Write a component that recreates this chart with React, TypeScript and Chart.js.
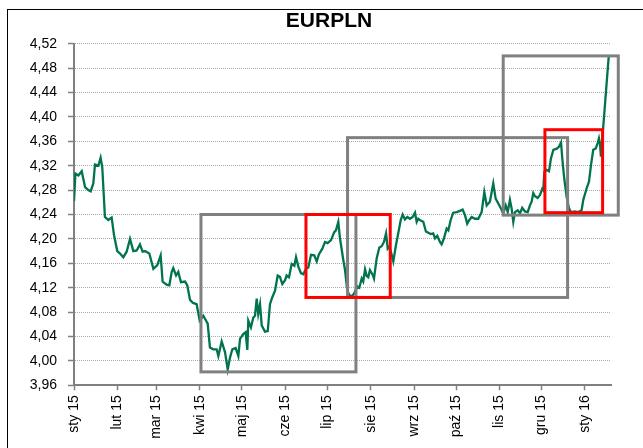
import React, { useEffect, useRef } from "react";
import { Chart, registerables } from "chart.js";

Chart.register(...registerables);

// x axis: days since 1 Jan 2015
const monthDays = [0, 31, 59, 90, 120, 151, 181, 212, 243, 273, 304, 334, 365];
const monthLabels = [
  "sty 15", "lut 15", "mar 15", "kwi 15", "maj 15", "cze 15", "lip 15",
  "sie 15", "wrz 15", "paź 15", "lis 15", "gru 15", "sty 16",
];
const xMax = 383.6;

const yTickValues = [3.96, 4.0, 4.04, 4.08, 4.12, 4.16, 4.2, 4.24, 4.28, 4.32, 4.36, 4.4, 4.44, 4.48, 4.52];

const days = [
  0, 1, 3.1, 5.5, 7.9, 10.2, 11.9, 13.8, 15, 17.4, 19, 20.2, 22.1, 24.5, 26.9, 28.6, 30.9, 32.9, 35.2, 37.6,
  40, 42.4, 44.8, 47.1, 49, 50.7, 53.8, 56.7, 59.5, 61.9, 63.3, 66.2, 68.1, 69.8, 70.9, 72.9, 74.5, 76.4, 79.3, 80.9,
  82.9, 85, 87.6, 89.8, 92.4, 95.5, 97.1, 99.5, 101.9, 103.1, 105.5, 107.9, 109.8, 111.4, 113.1, 115.5, 117.4, 118.6, 120.9, 122.6,
  123.8, 124.5, 126.4, 128.1, 129.3, 130.5, 131.6, 132.9, 134.1, 136.4, 138.4, 140, 141.6, 143.6, 145.5, 147.1, 148.8, 150.7, 151.9, 153.6,
  155.5, 157.4, 158.6, 160.2, 162.1, 163.8, 165.7, 167.4, 169.3, 171.6, 173.4, 175, 177.4, 179.3, 181.2, 183.6, 185.9, 187.1, 188.8, 190,
  192.4, 193.6, 195.2, 196.6, 198.4, 200, 202.4, 203.8, 205.5, 206.6, 207.9, 209.1, 210.2, 211.4, 213.4, 214.3, 216.2, 218.1, 219.8, 221.4,
  222.9, 224.1, 225.2, 226.4, 228.1, 230, 231.6, 233.4, 234.8, 236.4, 238.1, 240, 241.9, 243.6, 244.8, 245.9, 247.6, 249.5, 251.4, 253.1,
  254.8, 256.6, 257.9, 259.5, 261.4, 262.6, 264.3, 266.2, 267.4, 269.1, 270.9, 273.4, 275.7, 277.6, 279.3, 280.9, 282.4, 284.1, 286.4, 288.8,
  291.2, 293.1, 294.8, 297.1, 299.5, 301.2, 303.1, 305, 306.6, 308.4, 309.8, 311.4, 312.6, 313.8, 315, 316.9, 318.6, 320.2, 322.1, 324.1,
  325.7, 326.9, 328.1, 329.3, 331.2, 332.9, 334.5, 335.2, 336, 337.6, 339.3, 340.7, 342.4, 344.8, 346.4, 347.9, 348.8, 350.2, 351.9, 353.6,
  355, 357.9, 360.2, 362.6, 363.8, 366.2, 367.9, 369.3, 370.9, 372.6, 374.1, 375, 375.7, 376.4, 382,
];

const rates = [
  4.262, 4.307, 4.304, 4.311, 4.285, 4.28, 4.278, 4.291, 4.322, 4.32, 4.333, 4.317, 4.236, 4.231, 4.235, 4.206, 4.18, 4.176, 4.17, 4.179,
  4.2, 4.18, 4.181, 4.191, 4.179, 4.18, 4.176, 4.151, 4.157, 4.173, 4.13, 4.125, 4.124, 4.146, 4.152, 4.14, 4.146, 4.129, 4.13, 4.124,
  4.1, 4.095, 4.093, 4.066, 4.074, 4.061, 4.022, 4.019, 4.019, 4.008, 4.032, 4.014, 3.986, 4.005, 4.019, 4.021, 4.008, 4.036, 4.044, 4.047,
  4.018, 4.066, 4.055, 4.071, 4.074, 4.102, 4.077, 4.093, 4.058, 4.048, 4.049, 4.093, 4.104, 4.115, 4.14, 4.138, 4.126, 4.132, 4.14, 4.137,
  4.159, 4.156, 4.17, 4.155, 4.144, 4.142, 4.151, 4.153, 4.174, 4.173, 4.163, 4.175, 4.184, 4.195, 4.193, 4.198, 4.211, 4.214, 4.228, 4.201,
  4.165, 4.149, 4.116, 4.108, 4.106, 4.11, 4.122, 4.12, 4.135, 4.13, 4.15, 4.139, 4.137, 4.149, 4.141, 4.135, 4.168, 4.186, 4.188, 4.195,
  4.209, 4.184, 4.187, 4.179, 4.163, 4.19, 4.209, 4.231, 4.24, 4.232, 4.236, 4.233, 4.236, 4.243, 4.228, 4.233, 4.23, 4.228, 4.212, 4.21,
  4.208, 4.209, 4.201, 4.205, 4.195, 4.191, 4.201, 4.217, 4.214, 4.231, 4.243, 4.244, 4.246, 4.248, 4.239, 4.225, 4.231, 4.236, 4.233, 4.233,
  4.244, 4.277, 4.255, 4.261, 4.291, 4.266, 4.258, 4.25, 4.242, 4.255, 4.244, 4.264, 4.25, 4.228, 4.244, 4.247, 4.242, 4.251, 4.245, 4.244,
  4.255, 4.261, 4.275, 4.27, 4.267, 4.272, 4.282, 4.28, 4.31, 4.313, 4.311, 4.332, 4.346, 4.348, 4.351, 4.358, 4.332, 4.299, 4.269, 4.25,
  4.244, 4.245, 4.244, 4.247, 4.264, 4.283, 4.294, 4.321, 4.346, 4.348, 4.357, 4.365, 4.357, 4.335, 4.5,
];

// highlighted ranges (start day, end day, low rate, high rate)
const grayStart = [90.7, 195.4, 306.6];
const grayEnd = [201.4, 352.6, 388.8];
const grayLow = [3.982, 4.104, 4.239];
const grayHigh = [4.24, 4.366, 4.5];

const redStart = [165.7, 336.4];
const redEnd = [225.9, 377.6];
const redLow = [4.104, 4.243];
const redHigh = [4.24, 4.379];

const FONT = "'Liberation Sans', Arial, Helvetica, sans-serif";

const boxPlugin = {
  id: "rangeBoxes",
  afterLayout(chart: any) {
    // let the y labels extend to the left of the (narrow) axis box without being clipped
    const ys = chart.scales.y;
    if (ys) ys.left = 0;
  },
  afterDatasetsDraw(chart: any) {
    const { ctx, scales } = chart;
    const xs = scales.x;
    const ys = scales.y;
    const drawSet = (s: number[], e: number[], lo: number[], hi: number[], color: string) => {
      ctx.save();
      ctx.strokeStyle = color;
      ctx.lineWidth = 3;
      ctx.lineJoin = "miter";
      for (let i = 0; i < s.length; i++) {
        const x0 = xs.getPixelForValue(s[i]);
        const x1 = xs.getPixelForValue(e[i]);
        const y0 = ys.getPixelForValue(hi[i]);
        const y1 = ys.getPixelForValue(lo[i]);
        ctx.strokeRect(x0, y0, x1 - x0, y1 - y0);
      }
      ctx.restore();
    };
    drawSet(grayStart, grayEnd, grayLow, grayHigh, "#808080");
    drawSet(redStart, redEnd, redLow, redHigh, "#ff0000");
  },
  afterDraw(chart: any) {
    const { ctx, width, height } = chart;
    ctx.save();
    ctx.strokeStyle = "#000000";
    ctx.lineWidth = 1;
    ctx.beginPath();
    ctx.moveTo(7, 9.5);
    ctx.lineTo(width, 9.5);
    ctx.moveTo(7.5, 9);
    ctx.lineTo(7.5, height);
    ctx.stroke();
    ctx.restore();
  },
};

export default function App() {
  const canvasRef = useRef<HTMLCanvasElement | null>(null);

  useEffect(() => {
    if (!canvasRef.current) return;
    const chart = new Chart(canvasRef.current, {
      type: "line",
      data: {
        datasets: [
          {
            label: "EURPLN",
            data: days.map((d, i) => ({ x: d, y: rates[i] })),
            borderColor: "#00744a",
            borderWidth: 2.3,
            pointRadius: 0,
            pointHoverRadius: 0,
            tension: 0,
            fill: false,
          },
        ],
      },
      options: {
        animation: false,
        responsive: false,
        events: [],
        layout: { padding: { left: 47, right: 32, top: 0, bottom: 0 } },
        plugins: {
          legend: { display: false },
          tooltip: { enabled: false },
          title: {
            display: true,
            text: "EURPLN",
            color: "#000000",
            font: { family: FONT, size: 21, weight: "bold" },
            padding: { top: 9.1, bottom: 9.4 },
          },
        },
        scales: {
          x: {
            type: "linear",
            min: 0,
            max: xMax,
            afterBuildTicks: (s: any) => {
              s.ticks = monthDays.map((v) => ({ value: v }));
            },
            afterFit: (s: any) => {
              s.height = 62.7;
            },
            ticks: {
              autoSkip: false,
              maxRotation: 90,
              minRotation: 90,
              padding: 5,
              color: "#000000",
              font: { family: FONT, size: 14 },
              callback: (_v: any, i: number) => monthLabels[i],
            },
            grid: {
              drawOnChartArea: false,
              drawTicks: true,
              tickLength: 5,
              tickColor: "#808080",
              tickWidth: 1.5,
            },
            border: { color: "#808080", width: 2 },
          },
          y: {
            min: 3.96,
            max: 4.52,
            afterBuildTicks: (s: any) => {
              s.ticks = yTickValues.map((v) => ({ value: v }));
            },
            afterFit: (s: any) => {
              s.width = 27;
            },
            ticks: {
              padding: 11,
              color: "#000000",
              font: { family: FONT, size: 14 },
              callback: (v: any) => Number(v).toFixed(2).replace(".", ","),
            },
            grid: {
              color: "#a8a8a8",
              lineWidth: 1,
              drawTicks: true,
              tickLength: 6,
              tickColor: "#808080",
              tickWidth: 1.5,
            },
            border: { color: "#808080", width: 2, dash: [1, 1] },
          },
        },
      },
      plugins: [boxPlugin],
    });
    return () => chart.destroy();
  }, []);

  return (
    <div style={{ position: "fixed", left: 0, top: 0, width: 643, height: 448, background: "#ffffff" }}>
      <canvas ref={canvasRef} width={643} height={448} style={{ display: "block" }} />
    </div>
  );
}
